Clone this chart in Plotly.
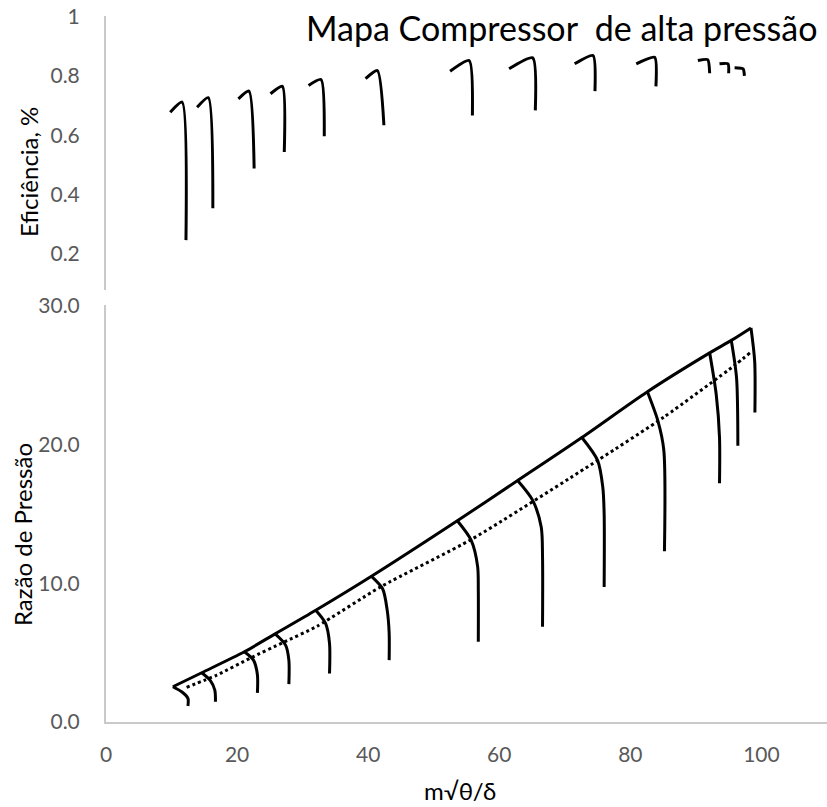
import plotly.graph_objects as go

# ---------------- data ----------------
# Pressure-ratio map: constant-speed lines (x = corrected mass flow, y = pressure ratio)
speed_x = [
    [10.2, 11.6, 12.5, 12.5],
    [14.6, 15.9, 16.6, 16.7],
    [21.1, 22.5, 23.1, 23.1],
    [25.8, 27.4, 27.9, 27.9],
    [32.0, 33.5, 34.1, 34.1],
    [40.5, 42.2, 42.9, 43.2, 43.2],
    [53.6, 55.7, 56.7, 56.8, 56.8],
    [62.8, 65.1, 66.4, 66.6, 66.6],
    [72.6, 75.0, 75.8, 76.0, 76.0],
    [82.6, 84.2, 85.1, 85.2],
    [92.1, 93.1, 93.6, 93.6],
    [95.4, 96.2, 96.4],
    [98.4, 98.97, 99.0],
]
speed_y = [
    [2.54, 2.16, 1.7, 1.15],
    [3.55, 3.0, 2.3, 1.46],
    [5.06, 4.46, 3.4, 2.1],
    [6.35, 5.54, 4.46, 2.73],
    [8.05, 7.1, 5.66, 3.5],
    [10.5, 9.6, 8.06, 6.4, 4.46],
    [14.5, 13.1, 11.2, 9.5, 5.78],
    [17.4, 15.97, 14.05, 11.9, 6.86],
    [20.5, 18.85, 16.9, 15.0, 9.73],
    [23.8, 21.7, 19.6, 12.3],
    [26.6, 23.6, 20.5, 17.2],
    [27.5, 24.8, 19.9],
    [28.4, 25.97, 22.3],
]
# Surge line
surge_x = [10.2, 14.6, 21.1, 25.8, 32.0, 40.5, 53.6, 62.8, 72.6, 82.6, 92.1, 95.4, 98.4]
surge_y = [2.54, 3.55, 5.06, 6.35, 8.05, 10.5, 14.5, 17.4, 20.5, 23.8, 26.6, 27.5, 28.4]
# Dotted operating line
oper_x = [12.3, 16.9, 22.0, 27.1, 32.2, 41.9, 55.9, 75.0, 85.2, 95.9, 98.5]
oper_y = [2.5, 3.38, 4.6, 5.75, 6.9, 9.74, 13.2, 18.85, 22.0, 25.7, 26.7]

# Efficiency map: constant-speed efficiency lines
eff_x = [
    [9.8, 11.6, 12.2],
    [13.9, 15.6, 16.3],
    [20.2, 21.8, 22.6],
    [25.1, 26.9, 27.2],
    [30.9, 32.8, 33.3],
    [39.6, 41.4, 42.4],
    [52.5, 55.4, 55.9],
    [61.5, 65.1, 65.5],
    [71.5, 74.3, 74.6],
    [80.9, 83.7, 83.9],
    [90.3, 91.8, 92.1],
    [93.6, 94.9, 95.0],
    [95.9, 97.2, 97.4],
]
eff_y = [
    [0.678, 0.712, 0.247],
    [0.695, 0.727, 0.354],
    [0.723, 0.749, 0.488],
    [0.740, 0.765, 0.544],
    [0.768, 0.788, 0.597],
    [0.791, 0.818, 0.634],
    [0.816, 0.852, 0.667],
    [0.824, 0.861, 0.684],
    [0.841, 0.869, 0.749],
    [0.841, 0.863, 0.765],
    [0.852, 0.855, 0.809],
    [0.841, 0.841, 0.809],
    [0.828, 0.824, 0.800],
]

x_ticks = [0, 20, 40, 60, 80, 100]
pr_ticks = [0, 10, 20, 30]
eff_ticks = [0.2, 0.4, 0.6, 0.8, 1]

# ---------------- layout helpers ----------------
W, H = 827, 807
L, R, T, B = 106, 0, 16, 85
PW, PH = W - L - R, H - T - B


def px(xp):
    return (xp - L) / PW


def py(yp):
    return (H - B - yp) / PH


FONT = "Lato, 'Open Sans', sans-serif"
TICK_COL = "#595959"
AX_COL = "#c9c9c9"

fig = go.Figure()

for xs, ys in zip(speed_x, speed_y):
    fig.add_trace(go.Scatter(x=xs, y=ys, mode="lines", xaxis="x", yaxis="y",
                             line=dict(color="black", width=3, shape="spline", smoothing=0.8),
                             showlegend=False, hoverinfo="skip"))
fig.add_trace(go.Scatter(x=surge_x, y=surge_y, mode="lines", xaxis="x", yaxis="y",
                         line=dict(color="black", width=3, shape="spline", smoothing=0.8),
                         showlegend=False))
fig.add_trace(go.Scatter(x=oper_x, y=oper_y, mode="lines", xaxis="x", yaxis="y",
                         line=dict(color="black", width=3, dash="dot", shape="spline", smoothing=0.6),
                         showlegend=False))
for xs, ys in zip(eff_x, eff_y):
    fig.add_trace(go.Scatter(x=xs, y=ys, mode="lines", xaxis="x2", yaxis="y2",
                             line=dict(color="black", width=3, shape="spline", smoothing=0.6),
                             showlegend=False, hoverinfo="skip"))

y_split_bottom = py(305)
y_split_top = py(290)

fig.update_layout(
    width=W, height=H,
    margin=dict(l=L, r=R, t=T, b=B),
    paper_bgcolor="white", plot_bgcolor="white",
    font=dict(family=FONT, color="black"),
    xaxis=dict(domain=[0, 1], range=[0, 110], tickvals=x_ticks, showgrid=False, zeroline=False,
               showline=True, linecolor=AX_COL, linewidth=2, ticks="",
               tickfont=dict(size=21, color=TICK_COL), ticklabelstandoff=13, anchor="y"),
    yaxis=dict(domain=[0, y_split_bottom], range=[0, 30.05], tickvals=pr_ticks, tickformat=".1f",
               showgrid=False, zeroline=False, showline=True, linecolor=AX_COL, linewidth=2,
               ticks="", tickfont=dict(size=21, color=TICK_COL), ticklabelstandoff=20, anchor="x"),
    xaxis2=dict(domain=[0, 1], matches="x", range=[0, 110], showticklabels=False, showgrid=False,
                zeroline=False, showline=False, ticks="", anchor="y2"),
    yaxis2=dict(domain=[y_split_top, 1], range=[0.079, 1.002], tickvals=eff_ticks,
                showgrid=False, zeroline=False, showline=True, linecolor=AX_COL, linewidth=2,
                ticks="", tickfont=dict(size=21, color=TICK_COL), ticklabelstandoff=20, anchor="x2"),
    annotations=[
        dict(text="Mapa Compressor  de alta pressão", xref="paper", yref="paper",
             x=px(819), y=py(27), xanchor="right", yanchor="middle", showarrow=False,
             font=dict(size=34, color="black", family=FONT)),
        dict(text="Eficiência, %", xref="paper", yref="paper", x=px(28), y=py(172),
             xanchor="center", yanchor="middle", textangle=-90, showarrow=False,
             font=dict(size=24, color="black", family=FONT)),
        dict(text="Razão de Pressão", xref="paper", yref="paper", x=px(22), y=py(535),
             xanchor="center", yanchor="middle", textangle=-90, showarrow=False,
             font=dict(size=24, color="black", family=FONT)),
        dict(text="m√θ/δ", xref="paper", yref="paper", x=px(460), y=py(790),
             xanchor="center", yanchor="middle", showarrow=False,
             font=dict(size=24, color="black", family=FONT)),
    ],
)

fig.write_html("out.html")
